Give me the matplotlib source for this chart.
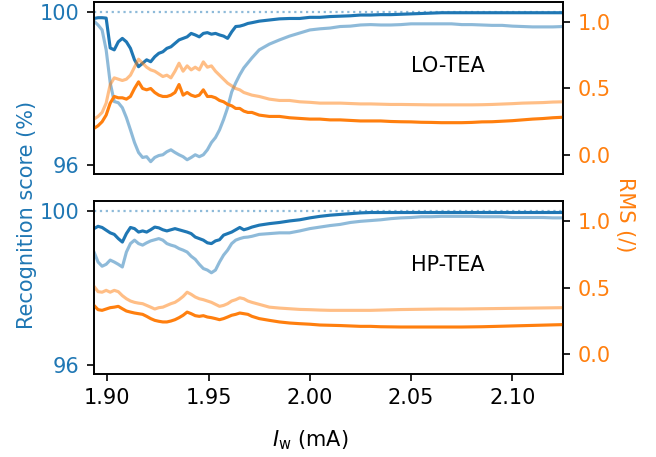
import numpy as np
import matplotlib
matplotlib.use('Agg')
import matplotlib.pyplot as plt

# Bias current (mA)
current_ma = [1.8934, 1.8954, 1.8974, 1.8994, 1.9014, 1.9034, 1.9054, 1.9074, 1.9094, 1.9114,
              1.9134, 1.9154, 1.9174, 1.9194, 1.9214, 1.9234, 1.9254, 1.9274, 1.9294, 1.9314,
              1.9334, 1.9354, 1.9374, 1.9394, 1.9414, 1.9434, 1.9454, 1.9474, 1.9494, 1.9514,
              1.9534, 1.9554, 1.9574, 1.9594, 1.9614, 1.9634, 1.9654, 1.9674, 1.9694, 1.9714,
              1.975, 1.980, 1.985, 1.990, 1.995, 2.000, 2.005, 2.010, 2.015, 2.020,
              2.025, 2.030, 2.035, 2.040, 2.045, 2.050, 2.055, 2.060, 2.065, 2.070,
              2.075, 2.080, 2.085, 2.090, 2.095, 2.100, 2.105, 2.110, 2.115, 2.120, 2.1252]

# ----- LO-TEA -----
lo_score = [99.84, 99.86, 99.86, 99.85, 99.07, 99.02, 99.23, 99.32, 99.23, 99.06,
            98.76, 98.58, 98.67, 98.76, 98.71, 98.84, 98.93, 98.97, 99.06, 99.10,
            99.19, 99.28, 99.32, 99.36, 99.45, 99.41, 99.36, 99.45, 99.47, 99.43,
            99.45, 99.41, 99.38, 99.32, 99.49, 99.63, 99.64, 99.67, 99.71, 99.73,
            99.77, 99.80, 99.83, 99.84, 99.84, 99.87, 99.87, 99.89, 99.90, 99.91,
            99.93, 99.93, 99.94, 99.94, 99.95, 99.96, 99.97, 99.98, 99.99, 99.99,
            99.99, 99.99, 99.99, 99.99, 99.99, 99.99, 99.99, 99.99, 99.99, 99.99, 99.99]
lo_score_light = [99.77, 99.67, 99.54, 99.02, 98.16, 97.67, 97.64, 97.51, 97.25, 96.93,
                  96.60, 96.34, 96.21, 96.23, 96.10, 96.21, 96.26, 96.28, 96.36, 96.41,
                  96.34, 96.28, 96.23, 96.15, 96.21, 96.28, 96.23, 96.28, 96.41, 96.60,
                  96.73, 96.93, 97.20, 97.51, 97.92, 98.16, 98.37, 98.55, 98.68, 98.81,
                  99.02, 99.17, 99.28, 99.38, 99.46, 99.54, 99.57, 99.59, 99.63, 99.64,
                  99.67, 99.68, 99.67, 99.67, 99.68, 99.70, 99.70, 99.70, 99.70, 99.70,
                  99.68, 99.68, 99.67, 99.66, 99.66, 99.64, 99.63, 99.62, 99.62, 99.62, 99.63]
lo_rms = [0.20, 0.22, 0.25, 0.30, 0.39, 0.44, 0.43, 0.43, 0.42, 0.44,
          0.50, 0.55, 0.50, 0.49, 0.50, 0.47, 0.45, 0.44, 0.44, 0.45,
          0.47, 0.53, 0.45, 0.47, 0.45, 0.44, 0.45, 0.49, 0.44, 0.44,
          0.43, 0.41, 0.40, 0.38, 0.37, 0.35, 0.35, 0.33, 0.32, 0.32,
          0.30, 0.29, 0.29, 0.28, 0.275, 0.27, 0.27, 0.264, 0.264, 0.26,
          0.256, 0.256, 0.256, 0.252, 0.25, 0.249, 0.246, 0.245, 0.243, 0.243,
          0.243, 0.245, 0.249, 0.25, 0.254, 0.258, 0.264, 0.27, 0.274, 0.28, 0.284]
lo_rms_light = [0.27, 0.29, 0.32, 0.39, 0.53, 0.58, 0.57, 0.56, 0.57, 0.60,
                0.66, 0.72, 0.69, 0.66, 0.64, 0.63, 0.61, 0.59, 0.60, 0.58,
                0.63, 0.69, 0.63, 0.67, 0.64, 0.66, 0.64, 0.70, 0.66, 0.67,
                0.63, 0.60, 0.57, 0.54, 0.52, 0.50, 0.49, 0.47, 0.46, 0.45,
                0.44, 0.42, 0.41, 0.41, 0.40, 0.396, 0.39, 0.39, 0.39, 0.387,
                0.384, 0.384, 0.382, 0.38, 0.38, 0.379, 0.378, 0.377, 0.377, 0.377,
                0.377, 0.377, 0.378, 0.380, 0.383, 0.386, 0.39, 0.392, 0.394, 0.398, 0.40]

# ----- HP-TEA -----
hp_score = [99.55, 99.61, 99.58, 99.51, 99.44, 99.40, 99.29, 99.20, 99.42, 99.58,
            99.55, 99.46, 99.49, 99.46, 99.52, 99.59, 99.57, 99.52, 99.49, 99.52,
            99.55, 99.52, 99.49, 99.46, 99.42, 99.33, 99.29, 99.25, 99.18, 99.16,
            99.23, 99.26, 99.38, 99.42, 99.46, 99.52, 99.58, 99.52, 99.55, 99.59,
            99.64, 99.68, 99.71, 99.75, 99.78, 99.83, 99.87, 99.90, 99.92, 99.94,
            99.96, 99.97, 99.97, 99.97, 99.97, 99.97, 99.97, 99.97, 99.97, 99.97,
            99.97, 99.97, 99.97, 99.97, 99.97, 99.97, 99.97, 99.97, 99.97, 99.97, 99.97]
hp_score_light = [98.94, 98.68, 98.57, 98.62, 98.73, 98.68, 98.62, 98.55, 98.94, 99.16,
                  99.25, 99.16, 99.12, 99.18, 99.23, 99.26, 99.29, 99.25, 99.16, 99.12,
                  99.09, 99.03, 98.99, 98.94, 98.83, 98.75, 98.62, 98.51, 98.47, 98.40,
                  98.47, 98.68, 98.86, 98.99, 99.16, 99.25, 99.29, 99.32, 99.33, 99.35,
                  99.40, 99.42, 99.44, 99.44, 99.49, 99.55, 99.59, 99.63, 99.66, 99.71,
                  99.74, 99.76, 99.78, 99.81, 99.83, 99.84, 99.86, 99.86, 99.87, 99.87,
                  99.87, 99.87, 99.86, 99.86, 99.86, 99.84, 99.84, 99.84, 99.84, 99.83, 99.83]
hp_rms = [0.367, 0.335, 0.33, 0.34, 0.35, 0.354, 0.36, 0.342, 0.325, 0.317,
          0.31, 0.305, 0.30, 0.285, 0.268, 0.255, 0.248, 0.243, 0.243, 0.25,
          0.26, 0.275, 0.293, 0.317, 0.305, 0.29, 0.285, 0.29, 0.28, 0.275,
          0.268, 0.26, 0.268, 0.28, 0.293, 0.30, 0.31, 0.305, 0.30, 0.285,
          0.268, 0.255, 0.243, 0.235, 0.23, 0.226, 0.22, 0.218, 0.216, 0.213,
          0.21, 0.21, 0.207, 0.206, 0.205, 0.205, 0.205, 0.205, 0.205, 0.205,
          0.205, 0.206, 0.207, 0.209, 0.211, 0.213, 0.215, 0.217, 0.219, 0.221, 0.223]
hp_rms_light = [0.51, 0.47, 0.466, 0.48, 0.466, 0.48, 0.47, 0.44, 0.417, 0.40,
                0.39, 0.384, 0.38, 0.367, 0.354, 0.34, 0.35, 0.354, 0.367, 0.38,
                0.39, 0.41, 0.434, 0.466, 0.45, 0.43, 0.417, 0.41, 0.40, 0.39,
                0.375, 0.36, 0.367, 0.38, 0.40, 0.41, 0.424, 0.417, 0.40, 0.39,
                0.375, 0.354, 0.347, 0.342, 0.337, 0.335, 0.332, 0.33, 0.33, 0.33,
                0.33, 0.33, 0.332, 0.334, 0.336, 0.337, 0.338, 0.339, 0.34, 0.34,
                0.34, 0.341, 0.342, 0.343, 0.344, 0.345, 0.346, 0.347, 0.348, 0.349, 0.35]

panels = [
    ('LO-TEA', lo_score, lo_score_light, lo_rms, lo_rms_light),
    ('HP-TEA', hp_score, hp_score_light, hp_rms, hp_rms_light),
]

blue = 'tab:blue'
orange = 'tab:orange'

# figure was made at 150 dpi, so scale everything by 1.5 for a 100 dpi canvas
plt.rcParams.update({
    'font.size': 15,
    'axes.linewidth': 1.2,
    'xtick.major.size': 5.25,
    'ytick.major.size': 5.25,
    'xtick.major.width': 1.2,
    'ytick.major.width': 1.2,
    'xtick.major.pad': 5.25,
    'ytick.major.pad': 5.25,
})
lw = 2.25

fig = plt.figure(figsize=(6.56, 4.57), dpi=100)
positions = [[0.1433, 0.6186, 0.7154, 0.3770], [0.1433, 0.1823, 0.7154, 0.3779]]

for i, (name, score, score_light, rms, rms_light) in enumerate(panels):
    ax = fig.add_axes(positions[i])
    ax.axhline(100, color=blue, alpha=0.5, linestyle=':', linewidth=1.6)
    ax.plot(current_ma, score_light, color=blue, alpha=0.5, linewidth=lw)
    ax.plot(current_ma, score, color=blue, linewidth=lw)
    ax.set_xlim(1.8934, 2.1252)
    ax.set_ylim(95.77, 100.27)
    ax.set_yticks([96, 100])
    ax.tick_params(axis='y', labelcolor=blue)
    ax.set_xticks([1.90, 1.95, 2.00, 2.05, 2.10])
    if i == 0:
        ax.tick_params(axis='x', bottom=False, labelbottom=False)

    ax2 = ax.twinx()
    ax2.plot(current_ma, rms_light, color=orange, alpha=0.5, linewidth=lw)
    ax2.plot(current_ma, rms, color=orange, linewidth=lw)
    ax2.set_ylim(-0.145, 1.15)
    ax2.set_yticks([0.0, 0.5, 1.0])
    ax2.tick_params(axis='y', labelcolor=orange)

    ax.text(0.754, 0.63, name, transform=ax.transAxes, ha='center', va='center')

fig.text(0.041, 0.530, 'Recognition score (%)', color=blue, rotation=90,
         ha='center', va='center')
fig.text(0.953, 0.530, 'RMS (/)', color=orange, rotation=270,
         ha='center', va='center')
fig.text(0.4726, 0.037, r'$I_\mathrm{w}$ (mA)', ha='center', va='center')

plt.savefig('out.png', dpi=100)
